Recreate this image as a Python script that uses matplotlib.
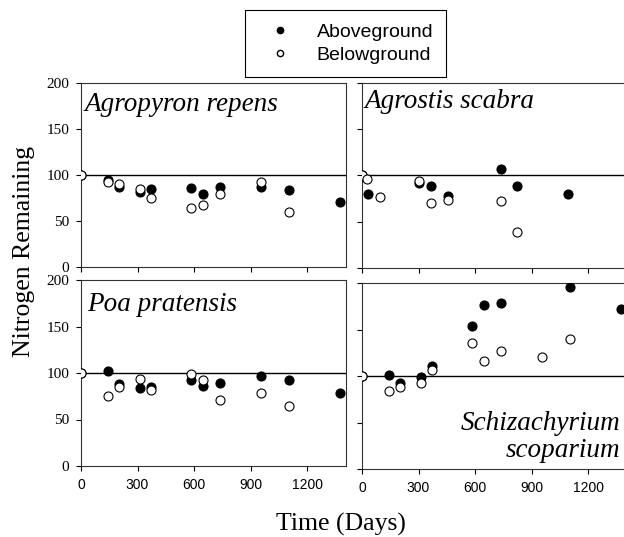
"""Nitrogen remaining in decomposing litter, four grass species, 2x2 panels."""
import matplotlib
matplotlib.use("Agg")
import matplotlib.pyplot as plt
from matplotlib.lines import Line2D
import numpy as np

nan = np.nan

# sampling days (shared by three species)
days = [0, 144, 200, 311, 374, 584, 648, 740, 955, 1103, 1375]

agropyron_above = [100, 95, 87, 81, 85, 86, 79, 87, 87, 84, 71]
agropyron_below = [100, 92, 90, 85, 75, 64, 67, 79, 92, 60, nan]

agrostis_days_above = [0, 32, 302, 365, 457, 736, 822, 1092]
agrostis_above = [100, 80, 91.5, 88.5, 78, 107, 88.5, 80]
agrostis_days_below = [0, 28, 94, 302, 365, 457, 736, 822]
agrostis_below = [100, 96, 76.5, 94, 70, 73, 72.5, 38.5]

poa_above = [100, 102.5, 88.5, 83.5, 85, 92, 86, 89.5, 97, 92, 78]
poa_below = [100, 75, 85, 94, 82, 99, 92, 71, 78, 65, nan]

schiz_above = [100, 101, 92, 98.5, 111, 154, 176, 179, nan, 196, 172]
schiz_below = [100, 84, 88, 93, 106, 136, 116, 127, 120, 140, nan]

SERIF = ["Liberation Serif", "DejaVu Serif"]
SANS = ["Liberation Sans", "DejaVu Sans"]

W, H = 624, 537


def _box(l, t, r, b):
    return [l / W, 1 - b / H, (r - l) / W, (b - t) / H]


def _panel(ax, xa, ya, xb, yb, xlab=False, ylab=False):
    ax.axhline(100, color="black", lw=1.0, zorder=1)
    ax.plot(xa, ya, "o", ms=6.5, mfc="black", mec="black", mew=0.8,
            ls="none", zorder=3)
    ax.plot(xb, yb, "o", ms=6.5, mfc="white", mec="black", mew=0.8,
            ls="none", zorder=4)
    ax.set_xlim(0, 1407)
    ax.set_ylim(0, 200)
    ax.set_xticks([0, 300, 600, 900, 1200])
    ax.set_yticks([0, 50, 100, 150, 200])
    ax.tick_params(direction="out", length=3.5, width=0.8, pad=5)
    if xlab:
        for t in ax.get_xticklabels():
            t.set_family(SANS); t.set_fontsize(10)
    else:
        ax.set_xticklabels([])
    if ylab:
        for t in ax.get_yticklabels():
            t.set_family(SERIF); t.set_fontsize(11)
    else:
        ax.set_yticklabels([])
    for s in ax.spines.values():
        s.set_linewidth(0.8); s.set_color("#333333")


fig = plt.figure(figsize=(W / 100, H / 100), dpi=100)
ax_tl = fig.add_axes(_box(81, 83, 346, 267))
ax_tr = fig.add_axes(_box(362, 83, 627, 268))
ax_bl = fig.add_axes(_box(81, 280, 346, 466))
ax_br = fig.add_axes(_box(362, 283, 627, 469))

_panel(ax_tl, days, agropyron_above, days, agropyron_below, ylab=True)
_panel(ax_tr, agrostis_days_above, agrostis_above,
       agrostis_days_below, agrostis_below)
_panel(ax_bl, days, poa_above, days, poa_below, xlab=True, ylab=True)
_panel(ax_br, days, schiz_above, days, schiz_below, xlab=True)

lab = dict(family=SERIF, style="italic", fontsize=19.5)
ax_tl.text(0.015, 0.848, "Agropyron repens", transform=ax_tl.transAxes,
           va="baseline", ha="left", **lab)
ax_tr.text(0.011, 0.865, "Agrostis scabra", transform=ax_tr.transAxes,
           va="baseline", ha="left", **lab)
ax_bl.text(0.023, 0.833, "Poa pratensis", transform=ax_bl.transAxes,
           va="baseline", ha="left", **lab)
ax_br.text(0.974, 0.21, "Schizachyrium", transform=ax_br.transAxes,
           va="baseline", ha="right", **lab)
ax_br.text(0.974, 0.065, "scoparium", transform=ax_br.transAxes,
           va="baseline", ha="right", **lab)

fig.text(24 / W, 1 - 251 / H, "Nitrogen Remaining", rotation=90,
         ha="center", va="center", family=SERIF, fontsize=18.5)
fig.text(341 / W, 1 - 531 / H, "Time (Days)", ha="center", va="baseline",
         family=SERIF, fontsize=18.5)

handles = [
    Line2D([], [], marker="o", ls="none", ms=4.5, mfc="black", mec="black"),
    Line2D([], [], marker="o", ls="none", ms=4.5, mfc="white", mec="black"),
]
leg = fig.legend(handles, ["Aboveground", "Belowground"], loc="center",
                 bbox_to_anchor=(345.5 / W, 1 - 43.5 / H),
                 prop={"family": SANS, "size": 14}, frameon=True,
                 fancybox=False, edgecolor="black", framealpha=1,
                 handletextpad=0.75, borderpad=0.65, labelspacing=0.3,
                 handlelength=2.3)
leg.get_frame().set_linewidth(0.8)

fig.savefig("out.png", dpi=100)
